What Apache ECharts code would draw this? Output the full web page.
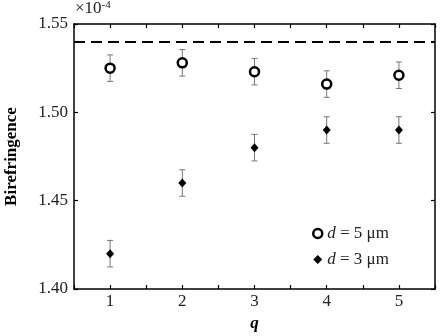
<!DOCTYPE html>
<html>
<head>
<meta charset="utf-8">
<script src="https://cdn.jsdelivr.net/npm/echarts@6/dist/echarts.min.js"></script>
<style>
  html, body { margin: 0; padding: 0; background: #fff; }
  #chart { width: 442px; height: 336px; }
</style>
</head>
<body>
<div id="chart"></div>
<script>
// q values and birefringence (x10^-4)
const qValues = [1, 2, 3, 4, 5];
const d5Values = [1.525, 1.528, 1.523, 1.516, 1.521];
const d5Errors = [0.0075, 0.0075, 0.0075, 0.0075, 0.0075];
const d3Values = [1.420, 1.460, 1.480, 1.490, 1.490];
const d3Errors = [0.0075, 0.0075, 0.0075, 0.0075, 0.0075];
const referenceLevel = 1.54;
const yTicks = [1.40, 1.45, 1.50, 1.55];

const font = "Liberation Serif";
const chart = echarts.init(document.getElementById("chart"));

function points(vals) {
  return qValues.map((q, i) => [q, vals[i]]);
}
function errBars(vals, errs) {
  return qValues.map((q, i) => [q, vals[i] - errs[i], vals[i] + errs[i]]);
}

function renderErr(params, api) {
  const lo = api.coord([api.value(0), api.value(1)]);
  const hi = api.coord([api.value(0), api.value(2)]);
  const w = 3;
  const style = { stroke: "#777", lineWidth: 1 };
  return {
    type: "group",
    children: [
      { type: "line", shape: { x1: lo[0], y1: lo[1], x2: hi[0], y2: hi[1] }, style },
      { type: "line", shape: { x1: lo[0] - w, y1: lo[1], x2: lo[0] + w, y2: lo[1] }, style },
      { type: "line", shape: { x1: hi[0] - w, y1: hi[1], x2: hi[0] + w, y2: hi[1] }, style },
    ],
  };
}

const axisCommon = {
  axisLine: { show: true, lineStyle: { color: "#000", width: 1.5 } },
  axisTick: { show: true, inside: true, length: 4, lineStyle: { color: "#000", width: 1.2 } },
  splitLine: { show: false },
};

const option = {
  animation: false,
  grid: { left: 74, right: 7, top: 24, bottom: 47, outerBoundsMode: "none" },
  graphic: [
    {
      type: "text",
      left: 75,
      top: 0,
      style: {
        text: "×10{sup|-4}",
        font: "17px " + font,
        fill: "#222",
        rich: { sup: { fontSize: 11, fontFamily: font, verticalAlign: "top", padding: [0, 0, 7, 0] } },
      },
    },
  ],
  legend: {
    orient: "vertical",
    left: 307,
    top: 220,
    itemWidth: 9,
    itemHeight: 9,
    itemGap: 9,
    data: [
      { name: "d5", icon: "circle", itemStyle: { color: "#fff", borderColor: "#000", borderWidth: 2.5 } },
      { name: "d3", icon: "diamond", itemStyle: { color: "#000", opacity: 1 } },
    ],
    formatter: (name) => (name === "d5" ? "{i|d} = 5 μm" : "{i|d} = 3 μm"),
    textStyle: {
      fontFamily: font,
      fontSize: 17,
      color: "#222",
      rich: { i: { fontStyle: "italic", fontFamily: font, fontSize: 17, color: "#222" } },
    },
  },
  xAxis: [
    {
      ...axisCommon,
      type: "value",
      min: 0.5,
      max: 5.5,
      interval: 0.5,
      name: "q",
      nameLocation: "middle",
      nameGap: 25,
      nameTextStyle: { fontFamily: font, fontSize: 17, fontWeight: "bold", fontStyle: "italic", color: "#000" },
      axisLabel: {
        fontFamily: font,
        fontSize: 17,
        color: "#222",
        margin: 4,
        formatter: (v) => (Number.isInteger(v) ? String(v) : ""),
      },
    },
    {
      ...axisCommon,
      type: "value",
      position: "top",
      min: 0.5,
      max: 5.5,
      interval: 0.5,
      axisLabel: { show: false },
    },
  ],
  yAxis: [
    {
      ...axisCommon,
      type: "value",
      min: yTicks[0],
      max: yTicks[yTicks.length - 1],
      interval: 0.05,
      name: "Birefringence",
      nameLocation: "middle",
      nameGap: 54,
      nameTextStyle: { fontFamily: font, fontSize: 17, fontWeight: "bold", color: "#000" },
      axisLabel: {
        fontFamily: font,
        fontSize: 17,
        color: "#222",
        margin: 6,
        formatter: (v) => v.toFixed(2),
      },
    },
    {
      ...axisCommon,
      type: "value",
      position: "right",
      min: yTicks[0],
      max: yTicks[yTicks.length - 1],
      interval: 0.05,
      axisLabel: { show: false },
    },
  ],
  series: [
    {
      type: "custom",
      name: "d5err",
      renderItem: renderErr,
      data: errBars(d5Values, d5Errors),
      z: 1,
      silent: true,
    },
    {
      type: "custom",
      name: "d3err",
      renderItem: renderErr,
      data: errBars(d3Values, d3Errors),
      z: 1,
      silent: true,
    },
    {
      type: "scatter",
      name: "d5",
      data: points(d5Values),
      symbol: "circle",
      symbolSize: 9,
      itemStyle: { color: "#fff", borderColor: "#000", borderWidth: 2.5, opacity: 1 },
      z: 3,
      markLine: {
        silent: true,
        symbol: "none",
        label: { show: false },
        lineStyle: { color: "#000", width: 2, type: [11, 6] },
        data: [{ yAxis: referenceLevel }],
      },
    },
    {
      type: "scatter",
      name: "d3",
      data: points(d3Values),
      symbol: "diamond",
      symbolSize: [8, 9],
      itemStyle: { color: "#000", opacity: 1 },
      z: 3,
    },
  ],
};

chart.setOption(option);
</script>
</body>
</html>
